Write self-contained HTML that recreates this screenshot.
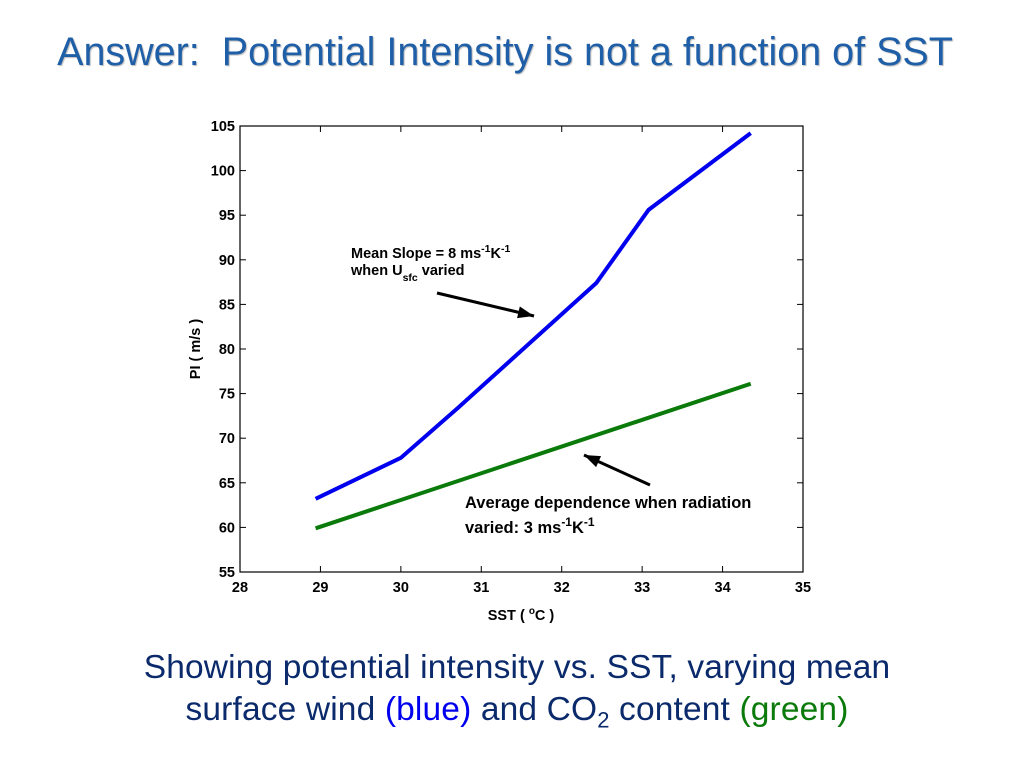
<!DOCTYPE html>
<html><head><meta charset="utf-8"><style>
body{margin:0;width:1024px;height:768px;background:#fff;overflow:hidden;font-family:"Liberation Sans",sans-serif}
#title{position:absolute;left:0;width:1010px;top:30px;text-align:center;font-size:39.5px;color:#1f5fa8;text-shadow:1px 1px 1px #bbb;white-space:nowrap}
#caption{position:absolute;left:0;width:1034px;top:647px;text-align:center;font-size:33.5px;color:#0b2a6b;line-height:42px;white-space:nowrap;letter-spacing:0.15px}
svg{position:absolute;left:0;top:0}
</style></head><body>
<div id="title">Answer:&nbsp; Potential Intensity is not a function of SST</div>
<svg width="1024" height="768" id="chart"></svg>
<div id="caption">Showing potential intensity vs. SST, varying mean<br>surface wind <span style="color:#0000ee">(blue)</span> and CO<sub style="font-size:22px">2</sub> content <span style="color:#0a7a0a">(green)</span></div>
<script>
const xTicks=[28,29,30,31,32,33,34,35];
const yTicks=[55,60,65,70,75,80,85,90,95,100,105];
const blueX=[28.94,30.0,30.71,32.43,33.08,34.35];
const blueY=[63.2,67.8,73.4,87.4,95.6,104.2];
const greenX=[28.94,34.35];
const greenY=[59.9,76.1];
const L=240,R=803,T=126,B=572;
const sx=v=>L+(v-28)/(35-28)*(R-L);
const sy=v=>B-(v-55)/(105-55)*(B-T);
const svg=document.getElementById('chart');
const NS='http://www.w3.org/2000/svg';
function mk(t,a,txt){const e=document.createElementNS(NS,t);for(const k in a)e.setAttribute(k,a[k]);if(txt!=null)e.textContent=txt;svg.appendChild(e);return e;}
let f=mk('rect',{x:L,y:T,width:R-L,height:B-T,fill:'none',stroke:'#000','stroke-width':1.2});


xTicks.forEach(v=>{const x=sx(v);
 mk('line',{x1:x,x2:x,y1:B,y2:B-6,stroke:'#000'});mk('line',{x1:x,x2:x,y1:T,y2:T+6,stroke:'#000'});
 const t=mk('text',{x:x,y:B+20,'text-anchor':'middle','font-size':14.5,'font-weight':'bold'},v);
 
 });
yTicks.forEach(v=>{const y=sy(v);
 mk('line',{x1:L,x2:L+6,y1:y,y2:y,stroke:'#000'});mk('line',{x1:R,x2:R-6,y1:y,y2:y,stroke:'#000'});
 const t=mk('text',{x:L-5,y:y+5,'text-anchor':'end','font-size':14.5,'font-weight':'bold'},v);
 
 });
const pts=(X,Y)=>X.map((v,i)=>sx(v)+','+sy(Y[i])).join(' ');
let b=mk('polyline',{points:pts(blueX,blueY),fill:'none',stroke:'#0000ee','stroke-width':4});


let g=mk('polyline',{points:pts(greenX,greenY),fill:'none',stroke:'#0a7a0a','stroke-width':4});


let xl=mk('text',{x:521,y:620,'text-anchor':'middle','font-size':14.5,'font-weight':'bold'});
xl.innerHTML='SST ( <tspan dy="-6" font-size="10">o</tspan><tspan dy="6">C )</tspan>';


let yl=mk('text',{x:0,y:0,'text-anchor':'middle','font-size':14.5,'font-weight':'bold',transform:'translate(200,349) rotate(-90)'},'PI ( m/s )');


let a1=mk('text',{x:351,y:258,'font-size':14.5,'font-weight':'bold'});
a1.innerHTML='Mean Slope = 8 ms<tspan dy="-6" font-size="10.5">-1</tspan><tspan dy="6">K</tspan><tspan dy="-6" font-size="10.5">-1</tspan>';


let a2=mk('text',{x:351,y:275,'font-size':14.5,'font-weight':'bold'});
a2.innerHTML='when U<tspan dy="6" font-size="10.5">sfc</tspan><tspan dy="-6"> varied</tspan>';


let a3=mk('text',{x:465,y:508,'font-size':16.5,'font-weight':'bold'},'Average dependence when radiation');


let a4=mk('text',{x:465,y:533,'font-size':16.5,'font-weight':'bold'});
a4.innerHTML='varied: 3 ms<tspan dy="-7" font-size="12">-1</tspan><tspan dy="7">K</tspan><tspan dy="-7" font-size="12">-1</tspan>';


function arrow(x1,y1,x2,y2,name){
 const e=mk('line',{x1:x1,y1:y1,x2:x2,y2:y2,stroke:'#000','stroke-width':3});
 
 
 const ang=Math.atan2(y2-y1,x2-x1),l=16,w=6;
 const bx=x2-l*Math.cos(ang),by=y2-l*Math.sin(ang);
 mk('polygon',{points:`${x2},${y2} ${bx-w*Math.sin(ang)},${by+w*Math.cos(ang)} ${bx+w*Math.sin(ang)},${by-w*Math.cos(ang)}`,fill:'#000'});
}
arrow(437,293,534,316,'blue-arrow');
arrow(650,485,584,455,'green-arrow');
</script>
</body></html>
